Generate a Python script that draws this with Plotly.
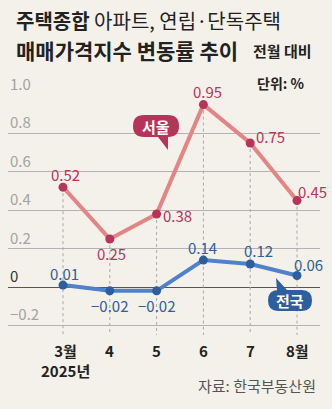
import plotly.graph_objects as go

# ---------------- data ----------------
months = ["3월", "4", "5", "6", "7", "8월"]
year_label = "2025년"
seoul = [0.52, 0.25, 0.38, 0.95, 0.75, 0.45]
national = [0.01, -0.02, -0.02, 0.14, 0.12, 0.06]
y_ticks = [-0.2, 0, 0.2, 0.4, 0.6, 0.8, 1.0]
y_tick_text = ["−0.2", "0", "0.2", "0.4", "0.6", "0.8", "1.0"]

# ---------------- style ----------------
W, H = 332, 409
L, R, T, B = 8, 12, 95, 74
PW, PH = W - L - R, H - T - B
BG = "#f3f1e9"
SEOUL_LINE = "#e38584"
SEOUL_DARK = "#b6345a"
NAT_LINE = "#4f82c8"
NAT_DARK = "#2d5e9e"
FONT = "Noto Sans CJK KR"

seoul_off = [(2, 13), (2, -14), (21, -1), (4, 13), (20, 7), (15, 9)]
nat_off = [(1, 12), (0, -15), (0, -15), (-1, 13), (8, 13), (11, 11)]


def px(x):
    return (x - L) / PW


def py(y):
    return (T + PH - y) / PH


x_idx = list(range(len(months)))

fig = go.Figure()
fig.add_trace(go.Scatter(
    x=x_idx, y=seoul, mode="lines+markers",
    line=dict(color=SEOUL_LINE, width=4),
    marker=dict(color=SEOUL_DARK, size=9),
    hoverinfo="skip", showlegend=False))
fig.add_trace(go.Scatter(
    x=x_idx, y=national, mode="lines+markers",
    line=dict(color=NAT_LINE, width=4),
    marker=dict(color=NAT_DARK, size=9),
    hoverinfo="skip", showlegend=False))

shapes = []
# vertical dotted guide lines
for i, v in enumerate(seoul):
    shapes.append(dict(type="line", xref="x", yref="y", x0=i, x1=i, y0=v, y1=-0.25,
                       line=dict(color="#a8a8a8", width=1, dash="dot"), layer="between"))


def bubble(x0, y0, x1, y1, r, pointer):
    s = f"M {px(x0 + r)},{py(y0)} "
    if pointer[0] == "top":
        _, a, tipx, tipy, b = pointer
        s += f"L {px(a)},{py(y0)} L {px(tipx)},{py(tipy)} L {px(b)},{py(y0)} "
    s += f"L {px(x1 - r)},{py(y0)} Q {px(x1)},{py(y0)} {px(x1)},{py((y0 + y1) / 2)} "
    s += f"Q {px(x1)},{py(y1)} {px(x1 - r)},{py(y1)} "
    if pointer[0] == "bottom":
        _, a, tipx, tipy, b = pointer
        s += f"L {px(a)},{py(y1)} L {px(tipx)},{py(tipy)} L {px(b)},{py(y1)} "
    s += f"L {px(x0 + r)},{py(y1)} Q {px(x0)},{py(y1)} {px(x0)},{py((y0 + y1) / 2)} "
    s += f"Q {px(x0)},{py(y0)} {px(x0 + r)},{py(y0)} Z"
    return s


shapes.append(dict(type="path", xref="paper", yref="paper",
                   path=bubble(133, 115, 179, 137, 11, ("bottom", 168, 168, 150, 158)),
                   fillcolor=SEOUL_DARK, line=dict(width=0), layer="above"))
shapes.append(dict(type="path", xref="paper", yref="paper",
                   path=bubble(268, 290, 312, 311, 10, ("top", 277, 276, 278, 287)),
                   fillcolor=NAT_DARK, line=dict(width=0), layer="above"))

ann = []
# y tick labels sitting above gridlines
for v, t in zip(y_ticks, y_tick_text):
    ann.append(dict(x=0, xref="paper", y=v, yref="y", text=t, showarrow=False,
                    xanchor="left", yanchor="bottom", yshift=-1,
                    font=dict(family=FONT, size=15, color="#333333" if v == 0 else "#a3a3a3")))
# data labels
for i, (v, o) in enumerate(zip(seoul, seoul_off)):
    ann.append(dict(x=i, y=v, xref="x", yref="y", text=f"{v:.2f}", showarrow=False,
                    xanchor="center", yanchor="middle", xshift=o[0], yshift=o[1],
                    font=dict(family=FONT, size=15, color=SEOUL_DARK)))
for i, (v, o) in enumerate(zip(national, nat_off)):
    t = f"{v:.2f}".replace("-", "−")
    ann.append(dict(x=i, y=v, xref="x", yref="y", text=t, showarrow=False,
                    xanchor="center", yanchor="middle", xshift=o[0], yshift=o[1],
                    font=dict(family=FONT, size=15, color=NAT_DARK)))
# x labels
for i, m in enumerate(months):
    txt = m + "<br>" + year_label if i == 0 else m
    ann.append(dict(x=i, xref="x", y=py(338), yref="paper", text=txt, showarrow=False,
                    xanchor="center", yanchor="top", xshift=2 if i == 0 else 0,
                    font=dict(family=FONT, size=15, color="#222222", weight="bold")))
# bubble texts
ann.append(dict(x=px(156), y=py(126), xref="paper", yref="paper", text="서울", showarrow=False,
                xanchor="center", yanchor="middle",
                font=dict(family=FONT, size=15, color="white", weight="bold")))
ann.append(dict(x=px(290), y=py(300.5), xref="paper", yref="paper", text="전국", showarrow=False,
                xanchor="center", yanchor="middle",
                font=dict(family=FONT, size=15, color="white", weight="bold")))
# titles
ann.append(dict(x=px(14), y=py(20), xref="paper", yref="paper",
                text="<b>주택종합</b> 아파트, 연립·단독주택", showarrow=False,
                xanchor="left", yanchor="middle",
                font=dict(family=FONT, size=20, color="#222222")))
ann.append(dict(x=px(14), y=py(50), xref="paper", yref="paper",
                text="<b>매매가격지수 변동률 추이</b>", showarrow=False,
                xanchor="left", yanchor="middle",
                font=dict(family=FONT, size=21, color="#222222")))
ann.append(dict(x=px(314), y=py(50), xref="paper", yref="paper",
                text="<b>전월 대비</b>", showarrow=False,
                xanchor="right", yanchor="middle",
                font=dict(family=FONT, size=15, color="#222222")))
ann.append(dict(x=px(306), y=py(83), xref="paper", yref="paper",
                text="<b>단위: %</b>", showarrow=False,
                xanchor="right", yanchor="middle",
                font=dict(family=FONT, size=14, color="#222222")))
ann.append(dict(x=px(318), y=py(385), xref="paper", yref="paper",
                text="자료: 한국부동산원", showarrow=False,
                xanchor="right", yanchor="middle",
                font=dict(family=FONT, size=15, color="#555555")))

fig.update_layout(
    width=W, height=H,
    margin=dict(l=L, r=R, t=T, b=B, pad=0),
    paper_bgcolor=BG, plot_bgcolor=BG,
    shapes=shapes, annotations=ann,
    xaxis=dict(range=[(L - 63) / 46.8, (W - R - 63) / 46.8], showgrid=False, zeroline=False,
               showticklabels=False, fixedrange=True),
    yaxis=dict(range=[-0.25, 1.0], tickvals=y_ticks, showticklabels=False,
               showgrid=True, gridcolor="#b3b3b3", gridwidth=1,
               zeroline=True, zerolinecolor="#555555", zerolinewidth=1, fixedrange=True),
)

fig.write_html("out.html", config={"displayModeBar": False})
